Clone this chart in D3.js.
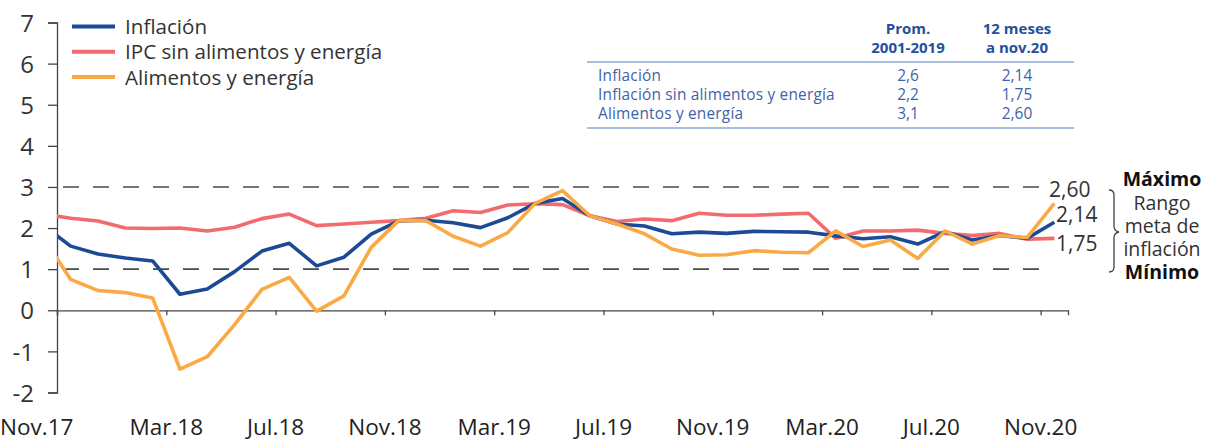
<!DOCTYPE html>
<html>
<head>
<meta charset="utf-8">
<script src="https://cdnjs.cloudflare.com/ajax/libs/d3/7.8.5/d3.min.js"></script>
<style>
  body { margin: 0; background: #fff; }
  text { font-family: "Open Sans", "Noto Sans", sans-serif; }
</style>
</head>
<body>
<script>
// meses (Oct.17 solo sirve para el tramo que entra cortado por el eje)
var meses = ["Oct.17","Nov.17","Dic.17","Ene.18","Feb.18","Mar.18","Abr.18","May.18","Jun.18","Jul.18","Ago.18","Set.18","Oct.18",
  "Nov.18","Dic.18","Ene.19","Feb.19","Mar.19","Abr.19","May.19","Jun.19","Jul.19","Ago.19","Set.19","Oct.19",
  "Nov.19","Dic.19","Ene.20","Feb.20","Mar.20","Abr.20","May.20","Jun.20","Jul.20","Ago.20","Set.20","Oct.20","Nov.20"];

var inflacion = [2.06, 1.56, 1.37, 1.27, 1.20, 0.39, 0.52, 0.94, 1.44, 1.63, 1.08, 1.29, 1.85,
  2.17, 2.19, 2.13, 2.01, 2.25, 2.60, 2.72, 2.30, 2.10, 2.05, 1.86, 1.90,
  1.87, 1.92, 1.91, 1.90, 1.81, 1.74, 1.79, 1.61, 1.91, 1.71, 1.82, 1.75, 2.14];

var sinAlimentos = [2.34, 2.24, 2.17, 2.00, 1.99, 2.00, 1.93, 2.02, 2.23, 2.34, 2.06, 2.10, 2.14,
  2.18, 2.24, 2.42, 2.38, 2.56, 2.59, 2.57, 2.30, 2.16, 2.22, 2.18, 2.36,
  2.31, 2.31, 2.34, 2.36, 1.75, 1.93, 1.93, 1.95, 1.87, 1.82, 1.87, 1.73, 1.75];

var alimentos = [1.77, 0.75, 0.48, 0.43, 0.30, -1.43, -1.13, -0.35, 0.51, 0.80, -0.02, 0.35, 1.53,
  2.18, 2.18, 1.80, 1.56, 1.89, 2.60, 2.91, 2.30, 2.10, 1.86, 1.49, 1.34,
  1.35, 1.45, 1.41, 1.40, 1.93, 1.55, 1.71, 1.26, 1.93, 1.61, 1.82, 1.77, 2.60];

var xTicks = ["Nov.17","Mar.18","Jul.18","Nov.18","Mar.19","Jul.19","Nov.19","Mar.20","Jul.20","Nov.20"];
var yTicks = [-2, -1, 0, 1, 2, 3, 4, 5, 6, 7];
var metas = [1, 3];

var leyenda = ["Inflación", "IPC sin alimentos y energía", "Alimentos y energía"];
var colores = ["#1c4a97", "#f26b6f", "#fba945"];

var filasTabla = ["Inflación", "Inflación sin alimentos y energía", "Alimentos y energía"];
var promedio = ["2,6", "2,2", "3,1"];
var doceMeses = ["2,14", "1,75", "2,60"];

var W = 1208, H = 442;
var svg = d3.select('body').append('svg')
  .attr('width', W)
  .attr('height', H);

// index 0 = Nov.17, Oct.17 = -1
var x = d3.scaleLinear().domain([-0.5, 36.5]).range([57, 1068]);
var y = d3.scaleLinear().domain([-2, 7]).range([392.5, 22.5]);

svg.append('clipPath').attr('id', 'plot')
  .append('rect').attr('x', 57).attr('y', 0).attr('width', 1011).attr('height', H);

// eje y
var ay = svg.append('g').attr('transform', 'translate(57,0)')
  .call(d3.axisLeft(y).tickValues(yTicks).tickSize(9).tickPadding(14).tickFormat(function(d) { return String(d); }));
ay.select('.domain').attr('stroke', '#444').attr('stroke-width', 1.3);
ay.selectAll('.tick line').attr('stroke', '#444').attr('stroke-width', 1.3);
ay.selectAll('.tick text')
  .attr('fill', '#333')
  .style('font-size', '24px')
  .attr('dy', '0.36em');

// eje x en cero
var ax = svg.append('g').attr('transform', 'translate(0,' + y(0) + ')')
  .call(d3.axisBottom(x).tickValues(xTicks.map(function(d, i) { return i * 4 - 0.5; })).tickSize(5).tickFormat(''));
ax.select('.domain').attr('stroke', '#444').attr('stroke-width', 1.3);
ax.selectAll('.tick line').attr('stroke', '#444').attr('stroke-width', 1.3);

svg.append('g').selectAll('text')
  .data(xTicks)
  .enter().append('text')
  .attr('x', function(d, i) { return i == 0 ? 0 : x(i * 4 - 0.5); })
  .attr('y', 435)
  .attr('text-anchor', function(d, i) { return i == 0 ? 'start' : 'middle'; })
  .attr('fill', '#222')
  .style('font-size', '22.5px')
  .text(function(d) { return d; });

// rango meta
svg.append('g').selectAll('line')
  .data(metas)
  .enter().append('line')
  .attr('x1', 57).attr('x2', 1053)
  .attr('y1', function(d) { return y(d); })
  .attr('y2', function(d) { return y(d); })
  .attr('stroke', '#4a4a4a')
  .attr('stroke-width', 1.6)
  .attr('stroke-dasharray', '16,14')
  .attr('stroke-dashoffset', -6);

// series
var line = d3.line()
  .x(function(d, i) { return x(i - 1); })
  .y(function(d) { return y(d); });

var series = [sinAlimentos, inflacion, alimentos];
var colSeries = [colores[1], colores[0], colores[2]];
svg.append('g').attr('clip-path', 'url(#plot)')
  .selectAll('path')
  .data(series)
  .enter().append('path')
  .attr('d', line)
  .attr('fill', 'none')
  .attr('stroke', function(d, i) { return colSeries[i]; })
  .attr('stroke-width', 3.6)
  .attr('stroke-linejoin', 'round');

// leyenda
var lg = svg.append('g').selectAll('g')
  .data(leyenda)
  .enter().append('g')
  .attr('transform', function(d, i) { return 'translate(72,' + (26.5 + i * 25.3) + ')'; });
lg.append('line')
  .attr('x1', 0).attr('x2', 43)
  .attr('stroke', function(d, i) { return colores[i]; })
  .attr('stroke-width', 4);
lg.append('text')
  .attr('x', 53).attr('y', 7.5)
  .attr('fill', '#333')
  .style('font-size', '20.6px')
  .text(function(d) { return d; });

// tabla
var tabla = svg.append('g');
var azulT = '#244f9e';
[['Prom.', '2001-2019', 908], ['12 meses', 'a nov.20', 1017]].forEach(function(c) {
  tabla.append('text').attr('x', c[2]).attr('y', 34).attr('text-anchor', 'middle')
    .attr('fill', azulT).style('font-size', '15px').style('font-weight', 'bold').text(c[0]);
  tabla.append('text').attr('x', c[2]).attr('y', 53).attr('text-anchor', 'middle')
    .attr('fill', azulT).style('font-size', '15px').style('font-weight', 'bold').text(c[1]);
});
tabla.selectAll('line.sep')
  .data([62, 128])
  .enter().append('line')
  .attr('x1', 587).attr('x2', 1074)
  .attr('y1', function(d) { return d; }).attr('y2', function(d) { return d; })
  .attr('stroke', '#8ea6d4').attr('stroke-width', 1.6);
var filas = tabla.selectAll('g.fila')
  .data(filasTabla)
  .enter().append('g')
  .attr('transform', function(d, i) { return 'translate(0,' + (80.5 + i * 19.4) + ')'; });
filas.append('text').attr('x', 598).attr('fill', '#3f62a8').style('font-size', '15.4px')
  .style('letter-spacing', '0.2px')
  .text(function(d) { return d; });
filas.append('text').attr('x', 908).attr('text-anchor', 'middle').attr('fill', '#3f62a8').style('font-size', '15.4px')
  .text(function(d, i) { return promedio[i]; });
filas.append('text').attr('x', 1017).attr('text-anchor', 'middle').attr('fill', '#3f62a8').style('font-size', '15.4px')
  .text(function(d, i) { return doceMeses[i]; });

// etiquetas finales
var ult = [alimentos[37], inflacion[37], sinAlimentos[37]];
var ultY = [197, 222, 251];
svg.append('g').selectAll('text')
  .data(ult)
  .enter().append('text')
  .attr('x', function(d, i) { return i == 0 ? 1049 : 1056; })
  .attr('y', function(d, i) { return ultY[i]; })
  .attr('fill', '#333')
  .style('font-size', '21px')
  .text(function(d) { return d3.format('.2f')(d).replace('.', ','); });

// llave y texto del rango
svg.append('path')
  .attr('d', 'M1109,190 q5,0 5,5 L1114,226 q0,5 5,6 q-5,1 -5,6 L1114,267 q0,5 -5,5')
  .attr('fill', 'none').attr('stroke', '#444').attr('stroke-width', 1.3);
var rango = [['Máximo', 186, true], ['Rango', 210, false], ['meta de', 233, false], ['inflación', 256, false], ['Mínimo', 279, true]];
svg.append('g').selectAll('text')
  .data(rango)
  .enter().append('text')
  .attr('x', 1162).attr('y', function(d) { return d[1]; })
  .attr('text-anchor', 'middle')
  .attr('fill', function(d) { return d[2] ? '#111' : '#333'; })
  .style('font-size', '19.5px')
  .style('font-weight', function(d) { return d[2] ? 'bold' : 'normal'; })
  .text(function(d) { return d[0]; });
</script>
</body>
</html>
